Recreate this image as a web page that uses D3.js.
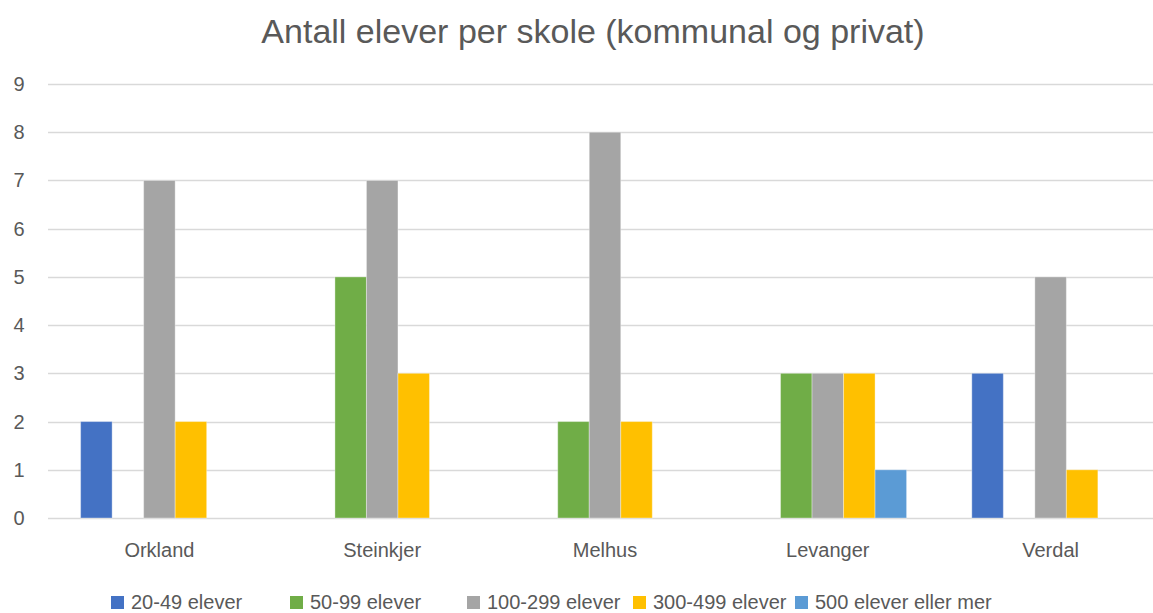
<!DOCTYPE html>
<html>
<head>
<meta charset="utf-8">
<script src="https://cdn.jsdelivr.net/npm/d3@7"></script>
<style>
  body { margin: 0; background: #fff; overflow: hidden; }
  svg text { font-family: "Liberation Sans", "DejaVu Sans", sans-serif; fill: #595959; }
</style>
</head>
<body>
<div id="chart"></div>
<script>
// Data
const categories = ['Orkland', 'Steinkjer', 'Melhus', 'Levanger', 'Verdal'];
const seriesNames = ['20-49 elever', '50-99 elever', '100-299 elever', '300-499 elever', '500 elever eller mer'];
const seriesColors = ['#4472C4', '#70AD47', '#A5A5A5', '#FFC000', '#5B9BD5'];
const values = [
    [2, 0, 0, 0, 3],   // 20-49
    [0, 5, 2, 3, 0],   // 50-99
    [7, 7, 8, 3, 5],   // 100-299
    [2, 3, 2, 3, 1],   // 300-499
    [0, 0, 0, 1, 0]    // 500+
];
const yTicks = [0, 1, 2, 3, 4, 5, 6, 7, 8, 9];

const width = 1153, height = 613;
// plot area runs slightly past the right edge of the picture (cropped in the original)
const margin = { top: 84, right: -9, bottom: 95, left: 48 };

const svg = d3.select('#chart').append('svg')
    .attr('width', width)
    .attr('height', height);

// Title
svg.append('text')
    .attr('x', 593)
    .attr('y', 43)
    .attr('text-anchor', 'middle')
    .style('font-size', '34px')
    .text('Antall elever per skole (kommunal og privat)');

const x0 = d3.scaleBand()
    .domain(categories)
    .range([margin.left, width - margin.right])
    .paddingInner(0)
    .paddingOuter(0);

// Excel-like gap width: bars fill 5/(5+2.07) of a category
const groupW = x0.bandwidth() * 5 / (5 + 2.07);
const x1 = d3.scaleBand()
    .domain(d3.range(seriesNames.length))
    .range([0, groupW]);

const y = d3.scaleLinear()
    .domain([0, 9])
    .range([height - margin.bottom, margin.top]);

// Gridlines
svg.append('g')
    .selectAll('line')
    .data(yTicks)
    .join('line')
    .attr('x1', margin.left)
    .attr('x2', width - margin.right)
    .attr('y1', d => Math.round(y(d)) + 0.5)
    .attr('y2', d => Math.round(y(d)) + 0.5)
    .style('stroke', '#d9d9d9')
    .style('stroke-width', 1.5);

// Y labels
svg.append('g')
    .selectAll('text')
    .data(yTicks)
    .join('text')
    .attr('x', 19)
    .attr('y', d => y(d))
    .attr('dy', '0.35em')
    .attr('text-anchor', 'middle')
    .style('font-size', '20px')
    .text(d => d);

// Bars
const groups = svg.append('g')
    .selectAll('g')
    .data(categories)
    .join('g')
    .attr('transform', d => `translate(${x0(d) + (x0.bandwidth() - groupW) / 2},0)`);

groups.selectAll('rect')
    .data((c, ci) => values.map((s, si) => ({ si: si, v: s[ci] })).filter(d => d.v > 0))
    .join('rect')
    .attr('x', d => x1(d.si))
    .attr('width', x1.bandwidth())
    .attr('y', d => y(d.v))
    .attr('height', d => y(0) - y(d.v))
    .style('fill', d => seriesColors[d.si])
    .style('stroke', 'rgba(255,255,255,0.35)')
    .style('stroke-width', 1);

// Category labels
svg.append('g')
    .selectAll('text')
    .data(categories)
    .join('text')
    .attr('x', d => x0(d) + x0.bandwidth() / 2)
    .attr('y', 557)
    .attr('text-anchor', 'middle')
    .style('font-size', '20px')
    .text(d => d);

// Legend
const legendX = [111, 290, 467, 633, 795];
const legend = svg.append('g')
    .selectAll('g')
    .data(seriesNames)
    .join('g')
    .attr('transform', (d, i) => `translate(${legendX[i]}, 596)`);

legend.append('rect')
    .attr('x', 0)
    .attr('y', 0)
    .attr('width', 13)
    .attr('height', 13)
    .style('fill', (d, i) => seriesColors[i]);

legend.append('text')
    .attr('x', 20)
    .attr('y', 13)
    .style('font-size', '20px')
    .text(d => d);
</script>
</body>
</html>
